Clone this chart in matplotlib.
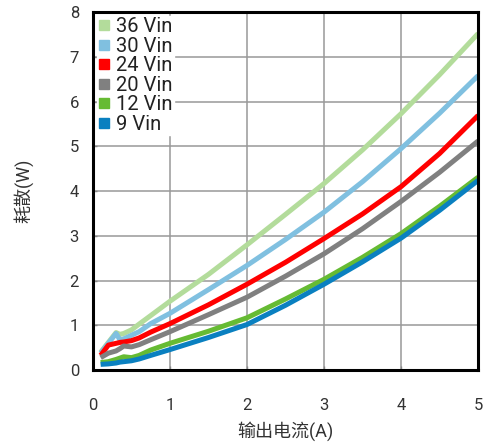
import matplotlib
matplotlib.use("Agg")
import matplotlib.pyplot as plt
from matplotlib.lines import Line2D

plt.rcParams['font.family'] = ['Roboto', 'Noto Sans CJK SC', 'DejaVu Sans']

# output current (A)
current = [0.1, 0.2, 0.3, 0.35, 0.4, 0.5, 0.6, 0.75, 1.0, 1.5, 2.0, 2.5, 3.0, 3.5, 4.0, 4.5, 5.0]

# dissipation (W) per input voltage
p36 = [0.40, 0.62, 0.84, 0.80, 0.82, 0.90, 1.03, 1.22, 1.54, 2.14, 2.80, 3.48, 4.17, 4.92, 5.73, 6.60, 7.52]
p30 = [0.38, 0.60, 0.82, 0.68, 0.70, 0.78, 0.86, 1.04, 1.27, 1.80, 2.34, 2.92, 3.53, 4.21, 4.95, 5.74, 6.58]
p24 = [0.33, 0.56, 0.60, 0.62, 0.63, 0.66, 0.72, 0.85, 1.04, 1.46, 1.92, 2.41, 2.94, 3.49, 4.10, 4.84, 5.69]
p20 = [0.28, 0.38, 0.43, 0.48, 0.54, 0.52, 0.57, 0.68, 0.86, 1.24, 1.63, 2.10, 2.60, 3.16, 3.77, 4.42, 5.12]
p12 = [0.17, 0.19, 0.24, 0.27, 0.30, 0.28, 0.33, 0.45, 0.60, 0.87, 1.17, 1.59, 2.03, 2.52, 3.05, 3.66, 4.31]
p9 = [0.13, 0.14, 0.16, 0.18, 0.19, 0.21, 0.25, 0.33, 0.46, 0.73, 1.02, 1.45, 1.92, 2.42, 2.95, 3.57, 4.24]

labels = ['36 Vin', '30 Vin', '24 Vin', '20 Vin', '12 Vin', '9 Vin']
series = [p36, p30, p24, p20, p12, p9]
colors = ['#b3dc9b', '#80c0e0', '#ff0000', '#808080', '#66bb33', '#0a80c0']

fig = plt.figure(figsize=(4.97, 4.46), dpi=100)
ax = fig.add_axes([0.187, 0.170, 0.775, 0.803])

for vals, c in zip(series, colors):
    ax.plot(current, vals, color=c, lw=3.6, solid_capstyle='butt',
            solid_joinstyle='round', zorder=3)

ax.set_xlim(0, 5)
ax.set_ylim(0, 8)
ax.set_xticks(range(0, 6))
ax.set_yticks(range(0, 9))
ax.grid(True, color='#999999', lw=1.1, zorder=1)
ax.set_axisbelow(True)

for s in ax.spines.values():
    s.set_linewidth(2.2)
    s.set_color('black')
    s.set_zorder(5)

ax.tick_params(direction='in', length=3, width=1, color='#888888',
               labelsize=12, labelcolor='#333333')
ax.tick_params(axis='x', pad=20)
ax.tick_params(axis='y', pad=10)

ax.set_xlabel('输出电流(A)', fontsize=13, color='#333333', labelpad=6)
ax.set_ylabel('耗散(W)', fontsize=13, color='#333333', labelpad=26)

handles = [Line2D([], [], ls='none', marker='s', markersize=7,
                  markerfacecolor=c, markeredgecolor=c) for c in colors]
leg = ax.legend(handles, labels, loc='upper left', fontsize=14.5,
                frameon=True, fancybox=False, edgecolor='white',
                framealpha=1, borderpad=0.05, labelspacing=0.03,
                handlelength=0.6, handletextpad=0.3,
                borderaxespad=0.2)
leg.set_zorder(4)
for t in leg.get_texts():
    t.set_color('#222222')

fig.savefig('out.png', dpi=100)
